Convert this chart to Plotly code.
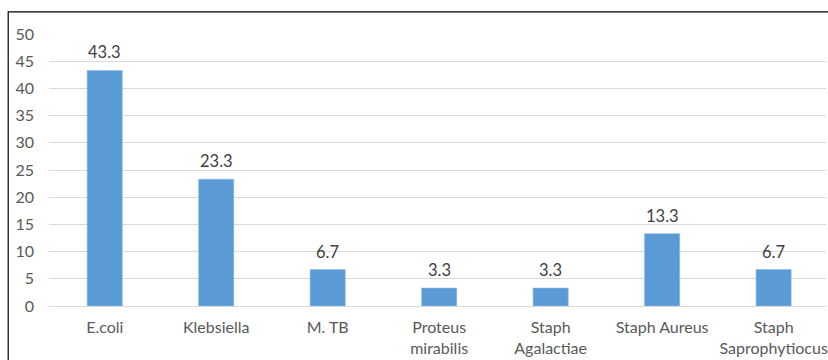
import plotly.graph_objects as go

# Isolated organisms and their share (%)
organisms = ["E.coli", "Klebsiella", "M. TB", "Proteus<br>mirabilis",
             "Staph<br>Agalactiae", "Staph Aureus", "Staph<br>Saprophytiocus"]
percent = [43.3, 23.3, 6.7, 3.3, 3.3, 13.3, 6.7]
y_ticks = [0, 5, 10, 15, 20, 25, 30, 35, 40, 45, 50]

FONT = "Lato, 'Open Sans', sans-serif"
BAR = "#5B9BD5"
GRID = "#D9D9D9"

fig = go.Figure()
fig.add_trace(go.Bar(
    x=list(range(len(organisms))),
    y=percent,
    marker=dict(color=BAR, line=dict(color="#8DB9E4", width=0.6)),
    width=0.315,
    hoverinfo="skip",
))

# Value labels above each bar
for i, v in enumerate(percent):
    fig.add_annotation(
        x=i, y=v, text=f"{v}", showarrow=False,
        yanchor="bottom", yshift=6,
        font=dict(family=FONT, size=16.5, color="#404040"),
    )

# Outer chart frame
fig.add_shape(
    type="rect", xref="paper", yref="paper",
    x0=-0.0525, x1=1.05, y0=-0.3, y1=1.081,
    line=dict(color="black", width=1.2), fillcolor="rgba(0,0,0,0)",
    layer="above",
)

fig.update_layout(
    width=828, height=360,
    margin=dict(l=49, r=0, t=34, b=54),
    paper_bgcolor="white", plot_bgcolor="white",
    showlegend=False,
    font=dict(family=FONT, size=16, color="#595959"),
    xaxis=dict(
        range=[-0.5, 6.47],
        tickmode="array",
        tickvals=list(range(len(organisms))),
        ticktext=organisms,
        showgrid=False, showline=False, zeroline=False,
        ticks="", ticklabelstandoff=10,
        ticklabeloverflow="allow",
        tickfont=dict(family=FONT, size=16, color="#595959"),
    ),
    yaxis=dict(
        range=[0, 50],
        tickmode="array", tickvals=y_ticks,
        showgrid=True, gridcolor=GRID, gridwidth=1.3,
        zeroline=True, zerolinecolor=GRID, zerolinewidth=1.3,
        showline=False, ticks="", ticklabelstandoff=14,
        tickfont=dict(family=FONT, size=16, color="#595959"),
    ),
)

fig.write_html("out.html")
